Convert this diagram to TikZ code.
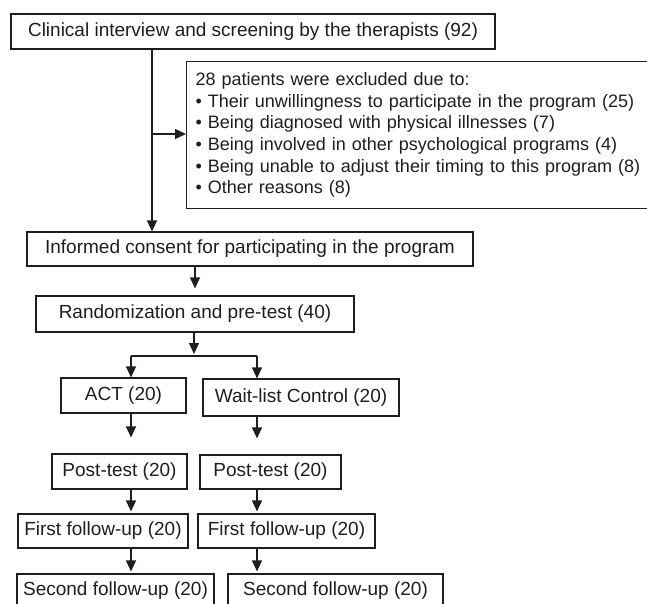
\documentclass[tikz,border=0pt]{standalone}
\usepackage{fontspec}
\setmainfont{Liberation Sans}
\usetikzlibrary{arrows.meta}
\definecolor{ink}{RGB}{30,30,30}
\begin{document}
\begin{tikzpicture}[x=1pt,y=1pt,
  line width=1.2pt, draw=ink, text=ink,
  bx/.style={draw=ink, line width=1.2pt, inner sep=0pt, align=center,
    font=\fontsize{19}{21.6}\selectfont},
  arr/.style={draw=ink, line width=1.2pt, -{Triangle[length=11pt,width=10pt]}}]
\useasboundingbox (0,0) rectangle (647,-604);
% boxes (centres in pixel coordinates)
\node[bx, minimum width=484pt, minimum height=35pt] (scr) at (253,-31.5)
  {Clinical interview and screening by the therapists (92)};
\node[bx, anchor=north west, minimum height=147pt, text width=500pt,
  inner xsep=9pt, align=left, font=\fontsize{18}{21.6}\selectfont] (excl) at (186,-61)
  {28 patients were excluded due to:\\
   • Their unwillingness to participate in the program (25)\\
   • Being diagnosed with physical illnesses (7)\\
   • Being involved in other psychological programs (4)\\
   • Being unable to adjust their timing to this program (8)\\
   • Other reasons (8)};
\node[bx, minimum width=446pt, minimum height=34pt] (inf) at (250,-249)
  {Informed consent for participating in the program};
\node[bx, minimum width=318pt, minimum height=36pt] (rand) at (195,-314)
  {Randomization and pre-test (40)};
\node[bx, minimum width=125pt, minimum height=35pt] (act) at (123.5,-395.5)
  {ACT (20)};
\node[bx, minimum width=196pt, minimum height=37pt] (wait) at (301,-397.5)
  {Wait-list Control (20)};
\node[bx, minimum width=135pt, minimum height=35pt] (postL) at (119.5,-471.5)
  {Post-test (20)};
\node[bx, minimum width=141pt, minimum height=34pt] (postR) at (270.5,-472)
  {Post-test (20)};
\node[bx, minimum width=170pt, minimum height=34pt] (firstL) at (103,-531)
  {First follow-up (20)};
\node[bx, minimum width=177pt, minimum height=34pt] (firstR) at (286.5,-531)
  {First follow-up (20)};
\node[bx, minimum width=197pt, minimum height=34pt] (secL) at (115.5,-591)
  {Second follow-up (20)};
\node[bx, minimum width=215pt, minimum height=34pt] (secR) at (335.5,-591)
  {Second follow-up (20)};
% helper coordinates
\coordinate (xm) at (152,0);
\coordinate (j1) at (152,-134);
\coordinate (br) at (194,-356);
\coordinate (bL) at (131,-356);
\coordinate (bR) at (257,-356);
% connectors
\draw[arr] (scr.south -| xm) -- (inf.north -| xm);
\draw[arr] (j1) -- (j1 -| excl.west);
\draw[arr, shorten >=7pt] (inf.south -| rand.north) -- (rand.north);
\draw[arr, shorten >=2pt] (rand.south -| br) -- (br);
\draw (bL) -- (bR);
\draw[arr] (bL) -- (act.north -| bL);
\draw[arr] (bR) -- (wait.north -| bR);
\draw[arr, shorten >=16pt] (act.south -| bL) -- (postL.north -| bL);
\draw[arr, shorten >=16pt] (wait.south -| bR) -- (postR.north -| bR);
\draw[arr, shorten >=2pt] (postL.south -| bL) -- (firstL.north -| bL);
\draw[arr, shorten >=2pt] (postR.south -| bR) -- (firstR.north -| bR);
\draw[arr, shorten >=2pt] (firstL.south -| bL) -- (secL.north -| bL);
\draw[arr, shorten >=2pt] (firstR.south -| bR) -- (secR.north -| bR);
\end{tikzpicture}
\end{document}
